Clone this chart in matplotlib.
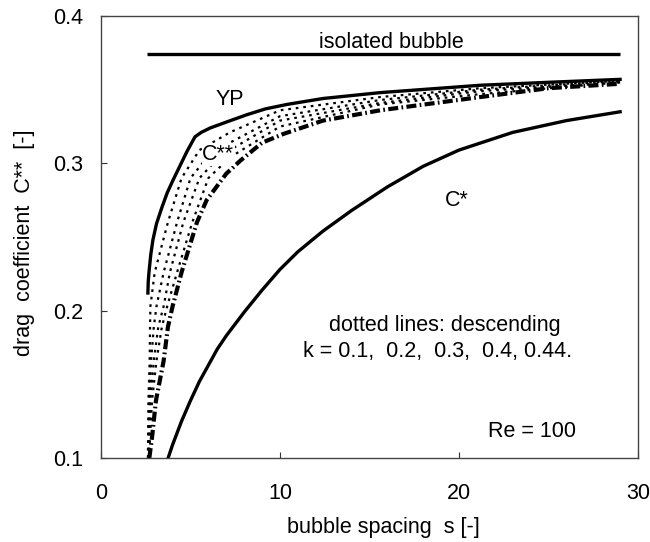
import matplotlib
matplotlib.use("Agg")
import matplotlib.pyplot as plt

plt.rcParams['font.family'] = ['Liberation Sans', 'DejaVu Sans']

# ---- data ----
iso_s = [2.57, 29.0]
iso_c = [0.374, 0.374]

yp_s = [2.62, 2.64, 2.68, 2.78, 2.9, 3.1, 3.4, 3.7, 4.0, 4.4, 4.8, 5.25, 5.6, 6.1, 7.0, 8.15, 9.2, 10.4, 12.4, 15.6, 21.2, 25.0, 29.0]
yp_c = [0.212, 0.220, 0.226, 0.238, 0.248, 0.259, 0.270, 0.280, 0.288, 0.298, 0.308, 0.318, 0.321, 0.324, 0.328, 0.333, 0.337, 0.340, 0.344, 0.348, 0.353, 0.355, 0.357]

k1_s = [2.62, 2.65, 2.72, 2.74, 2.76, 3.0, 3.74, 4.5, 5.5, 7.2, 10.0, 15.6, 21.2, 29.0]
k1_c = [0.100, 0.139, 0.166, 0.189, 0.203, 0.226, 0.260, 0.290, 0.309, 0.321, 0.336, 0.345, 0.351, 0.356]

k2_s = [2.64, 2.70, 2.80, 2.95, 3.1, 3.5, 4.25, 5.0, 6.0, 7.2, 10.0, 15.6, 21.2, 29.0]
k2_c = [0.100, 0.139, 0.166, 0.189, 0.203, 0.226, 0.260, 0.290, 0.305, 0.314, 0.332, 0.343, 0.350, 0.356]

k3_s = [2.66, 2.75, 2.95, 3.2, 3.5, 3.85, 4.6, 5.5, 6.5, 7.2, 10.0, 15.6, 21.2, 29.0]
k3_c = [0.100, 0.139, 0.166, 0.189, 0.203, 0.226, 0.260, 0.290, 0.303, 0.309, 0.329, 0.341, 0.349, 0.355]

k4_s = [2.68, 2.85, 3.1, 3.4, 3.7, 4.25, 5.1, 6.0, 7.2, 10.0, 15.6, 21.2, 29.0]
k4_c = [0.100, 0.139, 0.166, 0.189, 0.203, 0.226, 0.260, 0.290, 0.304, 0.325, 0.340, 0.347, 0.355]

k44_s = [2.70, 2.85, 3.07, 3.5, 3.74, 4.0, 4.5, 5.36, 5.9, 7.0, 7.8, 9.0, 10.2, 12.4, 15.6, 21.2, 25.0, 29.0]
k44_c = [0.100, 0.114, 0.139, 0.166, 0.189, 0.203, 0.226, 0.260, 0.275, 0.293, 0.302, 0.314, 0.320, 0.329, 0.336, 0.345, 0.351, 0.354]

cs_s = [3.75, 4.0, 4.5, 5.0, 5.5, 6.0, 6.5, 7.0, 8.0, 9.0, 10.0, 11.0, 12.4, 14.0, 16.0, 18.0, 20.0, 23.0, 26.0, 29.0]
cs_c = [0.100, 0.109, 0.125, 0.139, 0.152, 0.163, 0.174, 0.183, 0.199, 0.214, 0.228, 0.240, 0.254, 0.268, 0.284, 0.298, 0.309, 0.321, 0.329, 0.335]

x_ticks = [0, 10, 20, 30]
y_ticks = [0.1, 0.2, 0.3, 0.4]
x_ticklabels = ["0", "10", "20", "30"]
y_ticklabels = ["0.1", "0.2", "0.3", "0.4"]

FS = 15.5

fig = plt.figure(figsize=(6.5, 5.42), dpi=100)
ax = fig.add_axes([101/650, 1-458/542, 537/650, 442/542])

ax.plot(iso_s, iso_c, color='black', lw=2.4, solid_capstyle='butt')
ax.plot(yp_s, yp_c, color='black', lw=2.4)
for s, c in [(k1_s, k1_c), (k2_s, k2_c), (k3_s, k3_c), (k4_s, k4_c)]:
    ax.plot(s, c, color='black', lw=1.6, linestyle=(0, (1.2, 2.2)))
ax.plot(k44_s, k44_c, color='black', lw=3.0, linestyle=(0, (2.4, 0.8, 0.4, 0.8)))
ax.plot(cs_s, cs_c, color='black', lw=2.4)

ax.set_xlim(0, 30)
ax.set_ylim(0.1, 0.4)
ax.set_xticks(x_ticks)
ax.set_xticklabels(x_ticklabels)
ax.set_yticks(y_ticks)
ax.set_yticklabels(y_ticklabels)
ax.tick_params(direction='in', length=4.5, width=0.8, labelsize=FS, color='#333333')
ax.tick_params(axis='x', pad=18)
ax.tick_params(axis='y', pad=13)
for sp in ax.spines.values():
    sp.set_color('#444444')
    sp.set_linewidth(1.0)

ax.set_xlabel("bubble spacing  s [-]", fontsize=FS)
ax.xaxis.set_label_coords((383-101)/537, (458-528)/442)
ax.xaxis.label.set_va('center')
ax.set_ylabel("drag  coefficient  C**  [-]", fontsize=FS)
ax.yaxis.set_label_coords((25-101)/537, (458-243)/442)
ax.yaxis.label.set_va('center')

ax.text(16.2, 0.382, "isolated bubble", fontsize=FS, ha='center', va='center')
ax.text(7.2, 0.343, "YP", fontsize=FS, ha='center', va='center')
ax.text(6.55, 0.306, "C**", fontsize=FS, ha='center', va='center', zorder=5,
        bbox=dict(facecolor='white', edgecolor='none', pad=0.5))
ax.text(19.9, 0.275, "C*", fontsize=FS, ha='center', va='center')
ax.text(19.2, 0.190, "dotted lines: descending", fontsize=FS, ha='center', va='center')
ax.text(18.8, 0.172, "k = 0.1,  0.2,  0.3,  0.4, 0.44.", fontsize=FS, ha='center', va='center')
ax.text(24.1, 0.118, "Re = 100", fontsize=FS, ha='center', va='center')

fig.savefig("out.png", dpi=100)
